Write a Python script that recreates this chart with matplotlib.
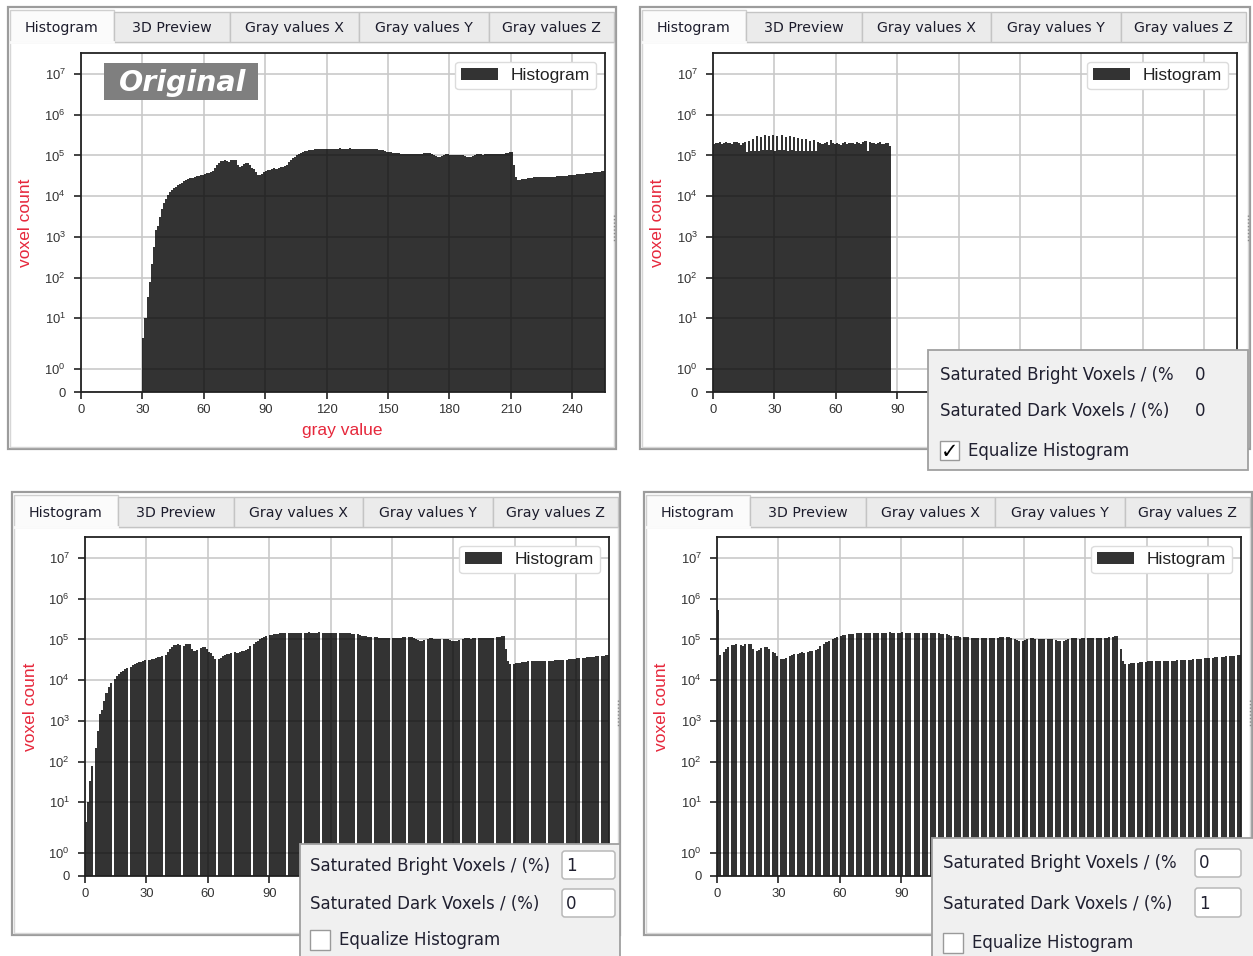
import matplotlib.pyplot as plt
import numpy as np
from matplotlib.patches import Rectangle, FancyBboxPatch, Patch
from matplotlib.ticker import NullLocator

plt.rcParams['font.family'] = ['Liberation Sans', 'DejaVu Sans']
plt.rcParams['mathtext.fontset'] = 'custom'
plt.rcParams['mathtext.rm'] = 'Liberation Sans'
plt.rcParams['mathtext.it'] = 'Liberation Sans:italic'

W, H = 1253, 956
RED = '#e6283c'
GUI = 'DejaVu Sans'

# original histogram, one count per gray value starting at 30
orig_start = 30
orig_counts = [
    4, 10, 33, 77, 220, 560, 1440, 1900, 3100, 4800,
    6700, 8500, 10500, 12500, 14500, 15500, 17000, 18500, 20000, 21500,
    23000, 24500, 26000, 27500, 28500, 29500, 31000, 32000, 33000, 34000,
    35500, 37000, 38000, 39500, 42000, 48000, 58000, 66000, 72000, 75000,
    77000, 74000, 70000, 76000, 79000, 78000, 60000, 52000, 55000, 62000,
    65000, 64000, 58000, 50000, 46000, 40000, 34000, 33000, 36000, 40000,
    41000, 43000, 44000, 46000, 48000, 47000, 50000, 52000, 53000, 55000,
    60000, 68000, 78000, 85000, 92000, 100000, 108000, 115000, 122000, 128000,
    132000, 135000, 138000, 140000, 142000, 143000, 144000, 145000, 146000, 146000,
    147000, 147000, 148000, 148000, 147000, 148000, 149000, 148000, 147000, 148000,
    148000, 149000, 148000, 147000, 148000, 148000, 147000, 146000, 147000, 147000,
    146000, 147000, 145000, 144000, 142000, 140000, 138000, 135000, 130000, 125000,
    122000, 120000, 118000, 116000, 114000, 112000, 110000, 109000, 108000, 108000,
    107000, 106000, 108000, 110000, 109000, 107000, 110000, 113000, 116000, 115000,
    112000, 108000, 103000, 98000, 94000, 93000, 97000, 103000, 108000, 106000,
    103000, 100000, 102000, 105000, 103000, 100000, 102000, 99000, 94000, 90000,
    92000, 97000, 102000, 106000, 108000, 107000, 105000, 106000, 108000, 107000,
    106000, 107000, 108000, 107000, 106000, 108000, 110000, 112000, 115000, 120000,
    123000, 60000, 30000, 25000, 25500, 26000, 26500, 27000, 27500, 28000,
    28500, 28800, 29000, 29200, 29500, 29700, 29800, 30000, 30000, 30200,
    30300, 30400, 30500, 30700, 30800, 31000, 31500, 32000, 32500, 33000,
    33500, 34000, 34500, 35000, 35500, 36000, 36500, 37000, 37500, 38000,
    38500, 39000, 39500, 40000, 40500, 41000,
]

# equalized histogram, gray values 0..86
eq_counts = [
    190000, 205000, 200000, 210000, 195000, 200000, 215000, 205000,
    200000, 190000, 210000, 220000, 200000, 185000, 200000, 215000,
    120000,
    230000, 130000, 260000, 130000, 300000, 130000, 290000, 140000,
    310000, 140000, 300000, 140000, 310000, 130000, 300000, 140000,
    310000, 140000, 290000, 130000, 300000, 140000, 280000, 130000,
    270000, 130000, 260000, 130000, 250000, 130000, 230000, 130000,
    240000, 130000,
    220000, 200000, 190000, 200000, 210000, 180000, 240000, 200000,
    190000, 200000, 195000, 185000, 200000, 210000, 190000, 200000,
    205000, 200000, 190000, 210000, 200000, 195000, 215000, 225000,
    130000, 210000, 200000, 205000, 195000, 200000, 210000, 195000,
    190000, 205000, 200000, 175000,
]

# saturated bright voxels 1 %, gray values 0..255
bright_counts = [
    4, 10, 33, 77, 0, 220, 560, 1440, 1900, 3100, 4800, 6700, 8500, 0, 10500, 12500, 14500,
    15500, 17000, 18500, 20000, 0, 21500, 23000, 24500, 26000, 27500, 28500, 29500, 31000, 0, 32000, 33000, 34000,
    35500, 37000, 38000, 39500, 0, 42000, 48000, 58000, 66000, 72000, 75000, 77000, 74000, 0, 70000, 76000, 79000,
    78000, 60000, 52000, 55000, 0, 62000, 65000, 64000, 58000, 50000, 46000, 40000, 34000, 0, 33000, 36000, 40000,
    41000, 43000, 44000, 46000, 0, 48000, 47000, 50000, 52000, 53000, 55000, 60000, 68000, 0, 78000, 85000, 92000,
    100000, 108000, 115000, 122000, 0, 128000, 132000, 135000, 138000, 140000, 142000, 143000, 144000, 0, 145000, 146000, 146000,
    147000, 147000, 148000, 148000, 0, 147000, 148000, 149000, 148000, 147000, 148000, 148000, 149000, 0, 148000, 147000, 148000,
    148000, 147000, 146000, 147000, 0, 147000, 146000, 147000, 145000, 144000, 142000, 140000, 138000, 0, 135000, 130000, 125000,
    122000, 120000, 118000, 116000, 0, 114000, 112000, 110000, 109000, 108000, 108000, 107000, 106000, 0, 108000, 110000, 109000,
    107000, 110000, 113000, 116000, 0, 115000, 112000, 108000, 103000, 98000, 94000, 93000, 97000, 0, 103000, 108000, 106000,
    103000, 100000, 102000, 105000, 0, 103000, 100000, 102000, 99000, 94000, 90000, 92000, 97000, 0, 102000, 106000, 108000,
    107000, 105000, 106000, 108000, 0, 107000, 106000, 107000, 108000, 107000, 106000, 108000, 110000, 0, 112000, 115000, 120000,
    123000, 60000, 30000, 25000, 0, 25500, 26000, 26500, 27000, 27500, 28000, 28500, 28800, 0, 29000, 29200, 29500,
    29700, 29800, 30000, 30000, 0, 30200, 30300, 30400, 30500, 30700, 30800, 31000, 31500, 0, 32000, 32500, 33000,
    33500, 34000, 34500, 35000, 0, 35500, 36000, 36500, 37000, 37500, 38000, 38500, 39000, 0, 39500, 40000, 40500,
    41000,
]

# saturated dark voxels 1 %, gray values 0..255
dark_counts = [
    520000, 42000, 0, 48000, 58000, 66000, 0, 72000, 75000, 77000, 0, 74000, 70000, 76000, 0,
    79000, 78000, 60000, 0, 52000, 55000, 62000, 0, 65000, 64000, 58000, 0, 50000, 46000, 40000, 0,
    34000, 33000, 36000, 0, 40000, 41000, 43000, 0, 44000, 46000, 48000, 47000, 0, 50000, 52000, 53000, 0,
    55000, 60000, 68000, 0, 78000, 85000, 92000, 0, 100000, 108000, 115000, 0, 122000, 128000, 132000, 0,
    135000, 138000, 140000, 0, 142000, 143000, 144000, 0, 145000, 146000, 146000, 0,
    147000, 147000, 148000, 0, 148000, 147000, 148000, 0, 149000,
    148000, 147000, 0, 148000, 148000, 149000, 0, 148000, 147000, 148000, 0, 148000, 147000, 146000, 0,
    147000, 147000, 146000, 0, 147000, 145000, 144000, 0, 142000, 140000, 138000, 0, 135000, 130000, 125000, 0,
    122000, 120000, 118000, 0, 116000, 114000, 112000, 0, 110000, 109000, 108000, 108000, 0, 107000, 106000, 108000, 0,
    110000, 109000, 107000, 0, 110000, 113000, 116000, 0, 115000, 112000, 108000, 0, 103000, 98000, 94000, 0,
    93000, 97000, 103000, 0, 108000, 106000, 103000, 0, 100000, 102000, 105000, 0, 103000, 100000, 102000, 0,
    99000, 94000, 90000, 0, 92000,
    97000, 102000, 0, 106000, 108000, 107000, 0, 105000, 106000, 108000, 0, 107000, 106000, 107000, 0,
    108000, 107000, 106000, 0, 108000, 110000, 112000, 0, 115000, 120000, 123000, 0, 60000, 30000, 25000, 0,
    25500, 26000, 26500, 0, 27000, 27500, 28000, 0, 28500, 28800, 29000, 29200, 0, 29500, 29700, 29800, 0,
    30000, 30000, 30200, 0, 30300, 30400, 30500, 0, 30700, 30800, 31000, 0, 31500, 32000, 32500, 0,
    33000, 33500, 34000, 0, 34500, 35000, 35500, 0, 36000, 36500, 37000, 0, 37500, 38000, 38500, 0,
    39000, 39500, 40000, 0, 40500,
    41000,
]

xticks = [0, 30, 60, 90, 120, 150, 180, 210, 240]
yticks = [0, 1, 10, 100, 1e3, 1e4, 1e5, 1e6, 1e7]
ytick_labels = ['0'] + ['$10^{%d}$' % k for k in range(8)]
tab_names = ['Histogram', '3D Preview', 'Gray values X', 'Gray values Y', 'Gray values Z']
tab_edges = [2, 106, 222, 351, 481, 606]


# y axis of the tool: linear below 1, stretched 1..10, log above
def fwd(y):
    y = np.asarray(y, dtype=float)
    with np.errstate(all='ignore'):
        lg = np.log10(np.clip(y, 1e-12, None))
        return np.where(y <= 1, 0.5665 * y,
                        np.where(y <= 10, 0.5665 + 1.2463 * lg, 0.8128 + lg))


def inv(f):
    f = np.asarray(f, dtype=float)
    with np.errstate(all='ignore'):
        return np.where(f <= 0.5665, f / 0.5665,
                        np.where(f <= 1.8128, 10 ** ((f - 0.5665) / 1.2463),
                                 10 ** (f - 0.8128)))


fig = plt.figure(figsize=(W / 100, H / 100), dpi=100)
bg = fig.add_axes([0, 0, 1, 1], zorder=0)
bg.set_xlim(0, W)
bg.set_ylim(H, 0)
bg.axis('off')


def px_axes(l, t, r, b, z):
    return fig.add_axes([l / W, 1 - b / H, (r - l) / W, (b - t) / H], zorder=z)


def draw_panel(x0, y0, x1, y1):
    bg.add_patch(Rectangle((x0, y0), x1 - x0, y1 - y0, fc='white', ec='#9c9c9c', lw=1.6))
    ty0, ty1 = y0 + 5, y0 + 35
    bg.add_patch(Rectangle((x0 + 2, ty1), x1 - x0 - 4, y1 - ty1 - 2, fc='white', ec='#d6d6d6', lw=1))
    for i, name in enumerate(tab_names):
        a, b = x0 + tab_edges[i], x0 + tab_edges[i + 1]
        if i == 0:
            bg.add_patch(Rectangle((a, y0 + 3), b - a, ty1 - y0 - 3, fc='#fbfbfb', ec='#cfcfcf', lw=1))
            bg.plot([a + 1, b - 1], [ty1, ty1], color='#fbfbfb', lw=2)
        else:
            bg.add_patch(Rectangle((a, ty0), b - a, ty1 - ty0, fc='#ebebeb', ec='#c4c4c4', lw=1))
        bg.text((a + b) / 2, (ty0 + ty1) / 2 + 1, name, family=GUI, fontsize=10.2,
                color='#1c1c2c', ha='center', va='center')
    bg.plot([x1 - 2, x1 - 2], [y0 + 208, y0 + 234], color='#8a8a8a', lw=1, ls=(0, (1, 1.5)))


def draw_hist(box, counts, start):
    l, t, r, b = box
    ax = px_axes(l, t, r, b, 2)
    edges = np.arange(start, start + len(counts) + 1)
    ax.stairs(counts, edges, fill=True, color='black', alpha=0.8, lw=0)
    ax.set_yscale('function', functions=(fwd, inv))
    ax.set_xlim(0, 256)
    ax.set_ylim(0, 3.3e7)
    ax.set_xticks(xticks)
    ax.set_yticks(yticks)
    ax.set_yticklabels(ytick_labels)
    ax.yaxis.set_minor_locator(NullLocator())
    ax.xaxis.set_minor_locator(NullLocator())
    ax.set_axisbelow(True)
    ax.grid(True, color='#c9c9c9', lw=1.2)
    for sp in ax.spines.values():
        sp.set_color('#222222')
        sp.set_linewidth(1.3)
    ax.tick_params(direction='out', length=5, width=1.2, color='#222222',
                   labelcolor='#333333', labelsize=9.4)
    ax.tick_params(axis='y', pad=6)
    aw, ah = r - l, b - t
    ax.set_ylabel('voxel count', color=RED, fontsize=12.5, va='center')
    ax.yaxis.set_label_coords(-55 / aw, 0.5)
    ax.set_xlabel('gray value', color=RED, fontsize=12.5, va='center')
    ax.xaxis.set_label_coords(261 / aw, -38 / ah)
    handle = Patch(facecolor='black', alpha=0.8, edgecolor='none', label='Histogram')
    leg = ax.legend(handles=[handle], loc='upper right',
                    bbox_to_anchor=((aw - 9) / aw, 1 - 9 / ah), borderaxespad=0,
                    fontsize=12.5, handlelength=2.1, handleheight=0.62, handletextpad=0.75,
                    borderpad=0.35, fancybox=True, framealpha=1, edgecolor='#dcdcdc')
    for txt in leg.get_texts():
        txt.set_color('#222222')
    return ax


panels = [
    ((8, 7, 616, 449), (81, 53, 605, 392), orig_counts, orig_start),
    ((640, 7, 1250, 449), (713, 53, 1237, 392), eq_counts, 0),
    ((12, 492, 620, 935), (85, 537, 609, 876), bright_counts, 0),
    ((644, 492, 1252, 935), (717, 537, 1241, 876), dark_counts, 0),
]
for pbox, abox, counts, start in panels:
    draw_panel(*pbox)
    draw_hist(abox, counts, start)

# overlay: label badge and the settings popups of the tool
fg = fig.add_axes([0, 0, 1, 1], zorder=10)
fg.patch.set_alpha(0)
fg.set_xlim(0, W)
fg.set_ylim(H, 0)
fg.axis('off')

fg.add_patch(Rectangle((104, 63), 154, 37, fc='#7f7f7f', ec='none'))
fg.text(183, 82.5, 'Original', family=GUI, fontsize=20.5, fontweight='bold',
        style='italic', color='white', ha='center', va='center')


def popup(box, rows, check, checked, fields=None):
    x0, y0, x1, y1 = box
    fg.add_patch(Rectangle((x0, y0), x1 - x0, y1 - y0, fc='#f0f0f0', ec='#a0a0a0', lw=1.3))
    for (tx, ty, label, val, vx) in rows:
        fg.text(tx, ty, label, family=GUI, fontsize=12, color='#202030', ha='left', va='center')
        fg.text(vx, ty, val, family=GUI, fontsize=12, color='#202030', ha='left', va='center')
    if fields:
        for (fx0, fy0, fx1, fy1) in fields:
            fg.add_patch(FancyBboxPatch((fx0, fy0), fx1 - fx0, fy1 - fy0,
                                        boxstyle='round,pad=0,rounding_size=3',
                                        fc='white', ec='#b8b8b8', lw=1.1, zorder=1))
    cx0, cy0, cx1, cy1 = check
    fg.add_patch(Rectangle((cx0, cy0), cx1 - cx0, cy1 - cy0, fc='white', ec='#9a9a9a', lw=1))
    if checked:
        fg.text((cx0 + cx1) / 2, (cy0 + cy1) / 2 + 1, '\u2713', family=GUI, fontsize=15,
                fontweight='bold', color='black', ha='center', va='center')
    fg.text(cx1 + 9, (cy0 + cy1) / 2, 'Equalize Histogram', family=GUI, fontsize=12,
            color='#202030', ha='left', va='center')


popup((928, 350, 1248, 470),
      [(940, 375, 'Saturated Bright Voxels / (%', '0', 1195),
       (940, 411, 'Saturated Dark Voxels / (%)', '0', 1195)],
      (940, 441, 959, 460), True)
popup((300, 844, 620, 975),
      [(310, 866, 'Saturated Bright Voxels / (%)', '1', 566),
       (310, 904, 'Saturated Dark Voxels / (%)', '0', 566)],
      (310, 930, 330, 950), False,
      fields=[(562, 851, 615, 879), (562, 889, 615, 917)])
popup((932, 838, 1262, 975),
      [(943, 863, 'Saturated Bright Voxels / (%', '0', 1199),
       (943, 904, 'Saturated Dark Voxels / (%)', '1', 1199)],
      (943, 933, 963, 953), False,
      fields=[(1195, 849, 1241, 877), (1195, 888, 1241, 917)])

fig.savefig('out.png', dpi=100)
